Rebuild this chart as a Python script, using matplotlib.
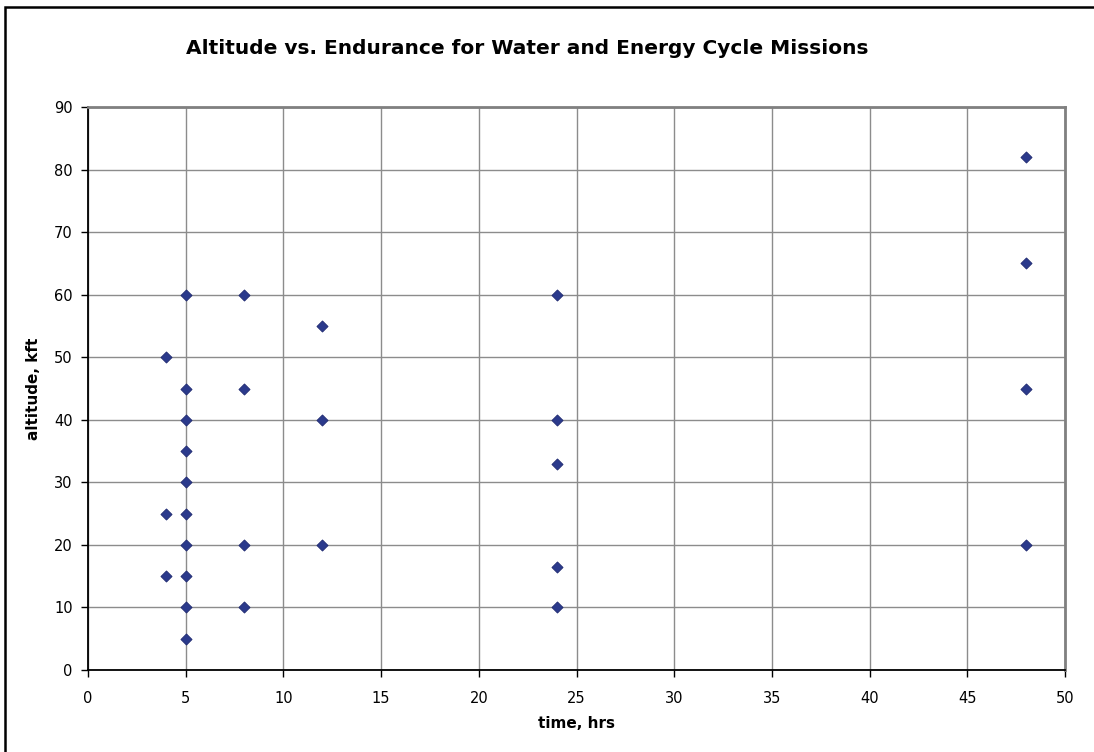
import matplotlib
matplotlib.use("Agg")
import matplotlib.pyplot as plt
from matplotlib.patches import Rectangle

# Mission endurance (hours) and altitude (kft)
time_hrs = [4, 4, 4,
            5, 5, 5, 5, 5, 5, 5, 5, 5, 5,
            8, 8, 8, 8,
            12, 12, 12,
            24, 24, 24, 24, 24,
            48, 48, 48, 48]
altitude_kft = [50, 25, 15,
                60, 45, 40, 35, 30, 25, 20, 15, 10, 5,
                60, 45, 20, 10,
                55, 40, 20,
                60, 40, 33, 16.5, 10,
                82, 65, 45, 20]

x_ticks = list(range(0, 51, 5))
y_ticks = list(range(0, 91, 10))

plt.rcParams['font.family'] = ['DejaVu Sans']

fig = plt.figure(figsize=(10.94, 7.52), dpi=100)
ax = fig.add_axes([88 / 1094, 1 - 670 / 752, (1065 - 88) / 1094, (670 - 107) / 752])

ax.scatter(time_hrs, altitude_kft, marker='D', s=32, color='#2B3A8C',
           edgecolor='#1F2A70', linewidth=0.6, zorder=3)

ax.set_xlim(0, 50)
ax.set_ylim(0, 90)
ax.set_xticks(x_ticks)
ax.set_yticks(y_ticks)
ax.grid(True, color='#8C8C8C', linewidth=1.0)
ax.set_axisbelow(True)

for side in ('left', 'bottom'):
    ax.spines[side].set_color('black')
    ax.spines[side].set_linewidth(1.3)
for side in ('top', 'right'):
    ax.spines[side].set_color('#808080')
    ax.spines[side].set_linewidth(2.0)

ax.tick_params(direction='out', length=5, width=1, colors='black',
               labelsize=10.5)
ax.tick_params(axis='x', pad=10)
ax.tick_params(axis='y', pad=6)

ax.set_xlabel('time, hrs', fontsize=11, fontweight='bold', labelpad=7)
ax.set_ylabel('altitude, kft', fontsize=11, fontweight='bold', labelpad=9)

fig.text(527 / 1094, 1 - 49 / 752,
         'Altitude vs. Endurance for Water and Energy Cycle Missions',
         ha='center', va='center', fontsize=14.5, fontweight='bold')

# Outer chart frame
fig.patches.append(Rectangle((5 / 1094, -0.1), 1.2, 1 - 7 / 752 + 0.1,
                             transform=fig.transFigure, fill=False,
                             edgecolor='black', linewidth=1.8))

fig.savefig('out.png', dpi=100, facecolor='white')
